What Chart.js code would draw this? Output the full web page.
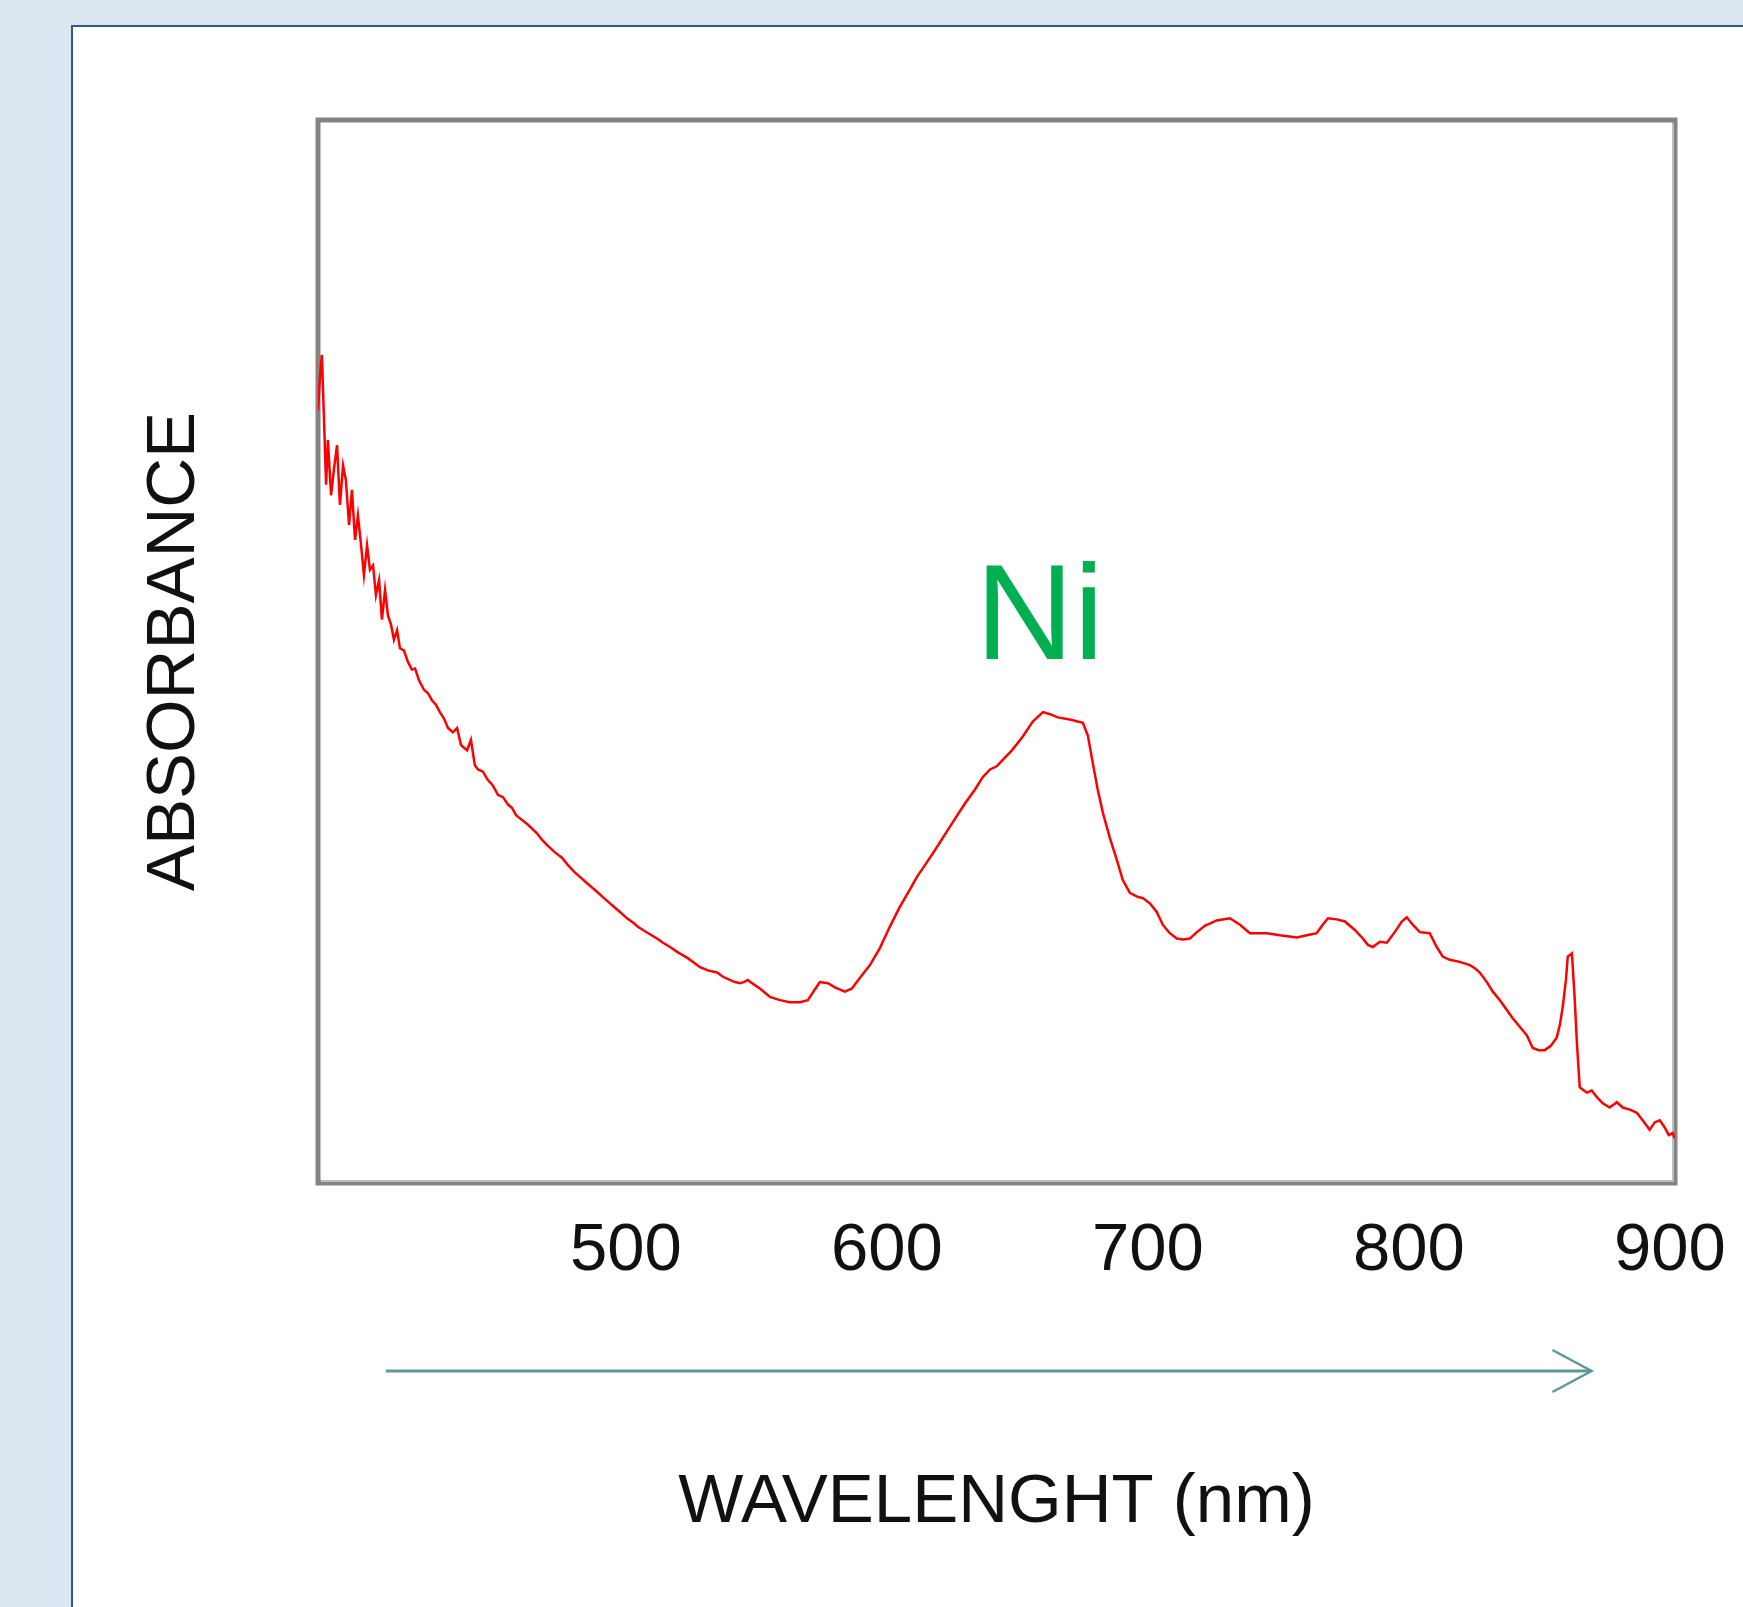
<!DOCTYPE html>
<html>
<head>
<meta charset="utf-8">
<script src="https://cdn.jsdelivr.net/npm/chart.js@4"></script>
<style>
    html, body { margin: 0; padding: 0; width: 1743px; height: 1607px; overflow: hidden; background: #dce6f1; }
    #panel { position: absolute; left: 71px; top: 25px; right: 0; bottom: 0; background: #fff; border-left: 2px solid #2c5b8f; border-top: 2px solid #2c5b8f; }
    #wrap { position: absolute; left: 0; top: 0; width: 1743px; height: 1607px; }
</style>
</head>
<body>
<div id="panel"></div>
<div id="wrap"><canvas id="chart"></canvas></div>
<script>
// spectrum (nm / arbitrary absorbance units)
const wavelengthNm = [382.0, 382.8, 383.5, 384.3, 385.1, 385.8, 387.0, 388.1, 389.3, 390.4,
    391.6, 392.7, 393.9, 395.0, 396.2, 397.3, 398.5, 399.6, 400.8, 401.9,
    403.1, 404.2, 405.4, 406.5, 407.7, 408.8, 410.0, 411.1, 412.3, 413.4,
    414.9, 416.5, 418.0, 419.2, 420.7, 422.6, 424.1, 425.7, 427.2, 428.7,
    430.3, 431.8, 433.7, 435.3, 436.8, 439.1, 440.6, 442.1, 443.3, 445.2,
    447.1, 449.0, 451.0, 452.9, 454.8, 456.3, 457.9, 459.4, 462.5, 465.9,
    467.8, 469.7, 472.8, 475.5, 477.8, 480.5, 482.8, 485.1, 487.0, 488.9,
    491.6, 493.9, 495.8, 497.7, 500.4, 502.7, 504.6, 506.5, 509.2, 511.9,
    514.2, 516.9, 519.9, 523.4, 525.7, 528.4, 531.4, 534.9, 537.2, 539.8,
    541.8, 543.7, 545.2, 546.7, 548.3, 551.3, 553.3, 555.2, 559.0, 562.8,
    566.7, 569.7, 572.4, 574.3, 577.4, 580.1, 583.9, 586.6, 589.7, 593.5,
    597.3, 601.1, 605.0, 608.8, 611.5, 614.6, 618.4, 624.1, 629.9, 633.7,
    636.8, 639.5, 642.1, 644.4, 647.9, 652.1, 655.9, 659.8, 662.5, 665.5,
    670.1, 675.1, 677.0, 678.9, 680.8, 682.8, 685.4, 688.1, 690.4, 693.1,
    696.2, 698.1, 700.8, 703.4, 705.7, 708.4, 711.1, 713.4, 716.1, 718.8,
    721.8, 726.4, 731.4, 735.3, 739.1, 742.9, 745.6, 750.6, 757.1, 760.9,
    764.7, 766.7, 769.0, 772.4, 775.5, 779.3, 782.4, 784.3, 786.2, 788.9,
    791.6, 794.6, 797.3, 799.2, 801.5, 804.2, 808.0, 810.7, 813.0, 815.7,
    819.5, 823.4, 825.3, 827.2, 829.9, 832.2, 834.9, 837.5, 839.8, 842.5,
    845.2, 847.5, 849.8, 852.1, 854.4, 856.7, 857.9, 859.0, 860.2, 860.9,
    862.5, 863.6, 864.4, 865.5, 868.2, 870.1, 872.0, 874.3, 877.0, 879.7,
    882.0, 884.7, 887.4, 889.6, 892.3, 894.2, 896.2, 898.1, 899.6, 901.1,
    901.9];

const absorbance = [0.727, 0.760, 0.779, 0.718, 0.657, 0.699, 0.647, 0.671, 0.694, 0.638,
    0.675, 0.661, 0.619, 0.652, 0.605, 0.628, 0.600, 0.572, 0.600, 0.577,
    0.581, 0.553, 0.567, 0.530, 0.558, 0.534, 0.525, 0.511, 0.520, 0.503,
    0.501, 0.490, 0.483, 0.484, 0.473, 0.464, 0.461, 0.454, 0.450, 0.443,
    0.437, 0.428, 0.424, 0.428, 0.412, 0.407, 0.417, 0.393, 0.389, 0.387,
    0.379, 0.374, 0.365, 0.363, 0.356, 0.353, 0.346, 0.343, 0.337, 0.329,
    0.323, 0.318, 0.311, 0.306, 0.299, 0.292, 0.287, 0.282, 0.278, 0.274,
    0.268, 0.263, 0.259, 0.255, 0.249, 0.245, 0.241, 0.238, 0.234, 0.230,
    0.226, 0.222, 0.217, 0.212, 0.208, 0.203, 0.200, 0.198, 0.194, 0.191,
    0.189, 0.188, 0.189, 0.191, 0.188, 0.183, 0.179, 0.175, 0.172, 0.170,
    0.170, 0.172, 0.182, 0.189, 0.188, 0.184, 0.180, 0.183, 0.193, 0.205,
    0.221, 0.241, 0.260, 0.276, 0.288, 0.299, 0.313, 0.335, 0.357, 0.370,
    0.382, 0.389, 0.392, 0.398, 0.407, 0.420, 0.434, 0.443, 0.441, 0.438,
    0.436, 0.433, 0.421, 0.395, 0.370, 0.348, 0.325, 0.304, 0.285, 0.273,
    0.269, 0.268, 0.263, 0.255, 0.243, 0.235, 0.230, 0.229, 0.230, 0.236,
    0.242, 0.247, 0.249, 0.243, 0.235, 0.235, 0.235, 0.233, 0.231, 0.233,
    0.235, 0.242, 0.249, 0.248, 0.246, 0.238, 0.230, 0.224, 0.222, 0.227,
    0.226, 0.236, 0.246, 0.250, 0.243, 0.236, 0.235, 0.222, 0.213, 0.210,
    0.208, 0.205, 0.202, 0.198, 0.189, 0.180, 0.172, 0.163, 0.155, 0.147,
    0.139, 0.127, 0.125, 0.125, 0.129, 0.137, 0.149, 0.166, 0.191, 0.213,
    0.216, 0.172, 0.132, 0.090, 0.085, 0.087, 0.081, 0.075, 0.071, 0.076,
    0.071, 0.069, 0.066, 0.059, 0.050, 0.057, 0.059, 0.052, 0.045, 0.047,
    0.042];

const xTicks = [500, 600, 700, 800, 900];
const xRange = [382, 902];
const yRange = [0, 1];

const peakLabel = { text: 'Ni', x: 658.6, y: 0.493 };
const arrowSpan = [408, 870];

const xTitle = 'WAVELENGHT (nm)';
const yTitle = 'ABSORBANCE';

(function app() {

    Chart.defaults.font.family = "'Liberation Sans', Arial, sans-serif";
    Chart.defaults.color = '#111';

    const points = wavelengthNm.map((wl, i) => ({ x: wl, y: absorbance[i] }));

    const plotFrame = {
        id: 'plotFrame',
        beforeDatasetsDraw(chart) {
            const { ctx, chartArea: a } = chart;
            ctx.save();
            ctx.strokeStyle = '#848484';
            ctx.lineWidth = 5;
            ctx.strokeRect(a.left, a.top, a.right - a.left, a.bottom - a.top);
            ctx.strokeStyle = '#bdbdbd';
            ctx.lineWidth = 2;
            ctx.beginPath();
            ctx.moveTo(a.right - 2, a.top + 3);
            ctx.lineTo(a.right - 2, a.bottom - 2);
            ctx.lineTo(a.left + 3, a.bottom - 2);
            ctx.stroke();
            ctx.restore();
        }
    };

    const annotations = {
        id: 'annotations',
        afterDraw(chart) {
            const { ctx, chartArea: a } = chart;
            const xs = chart.scales.x;
            const ys = chart.scales.y;
            ctx.save();

            // element label
            ctx.fillStyle = '#00b050';
            ctx.font = "136px 'Liberation Sans', Arial, sans-serif";
            ctx.textAlign = 'center';
            ctx.textBaseline = 'alphabetic';
            ctx.fillText(peakLabel.text, xs.getPixelForValue(peakLabel.x), ys.getPixelForValue(peakLabel.y));

            // direction arrow under the ticks
            const x0 = xs.getPixelForValue(arrowSpan[0]);
            const x1 = xs.getPixelForValue(arrowSpan[1]);
            const y = a.bottom + 188;
            ctx.strokeStyle = '#609898';
            ctx.lineWidth = 3;
            ctx.beginPath();
            ctx.moveTo(x0, y);
            ctx.lineTo(x1, y);
            ctx.stroke();
            ctx.lineWidth = 2.5;
            ctx.beginPath();
            ctx.moveTo(x1 - 39, y - 21);
            ctx.lineTo(x1, y);
            ctx.lineTo(x1 - 39, y + 21);
            ctx.stroke();
            ctx.restore();
        }
    };

    const configuration = {
        type: 'line',
        data: {
            datasets: [{
                data: points,
                borderColor: '#ff0000',
                borderWidth: 2.5,
                pointRadius: 0,
                tension: 0,
                fill: false
            }]
        },
        options: {
            responsive: true,
            maintainAspectRatio: false,
            animation: false,
            layout: { padding: { top: 120, right: 68, bottom: 0, left: 0 } },
            plugins: {
                legend: { display: false },
                tooltip: { enabled: false }
            },
            scales: {
                x: {
                    type: 'linear',
                    min: xRange[0],
                    max: xRange[1],
                    afterBuildTicks: scale => { scale.ticks = xTicks.map(v => ({ value: v })); },
                    afterFit: scale => {
                        scale.height = 424;
                        // the "900" label may hang into the right margin
                        scale.paddingLeft = 0;
                        scale.paddingRight = 0;
                    },
                    grid: { display: false, drawTicks: false },
                    border: { display: false },
                    ticks: {
                        autoSkip: false,
                        maxRotation: 0,
                        padding: 35,
                        color: '#111',
                        font: { size: 67, lineHeight: 1 }
                    },
                    title: {
                        display: true,
                        text: xTitle,
                        color: '#111',
                        font: { size: 69, lineHeight: 1 },
                        padding: { top: 0, bottom: 70 }
                    }
                },
                y: {
                    min: yRange[0],
                    max: yRange[1],
                    afterFit: scale => { scale.width = 318; },
                    grid: { display: false, drawTicks: false },
                    border: { display: false },
                    ticks: { display: false },
                    title: {
                        display: true,
                        text: yTitle,
                        color: '#111',
                        font: { size: 69, lineHeight: 1 },
                        padding: { top: 140, bottom: 0 }
                    }
                }
            }
        },
        plugins: [plotFrame, annotations]
    };

    new Chart(document.getElementById('chart'), configuration);
})();
</script>
</body>
</html>
